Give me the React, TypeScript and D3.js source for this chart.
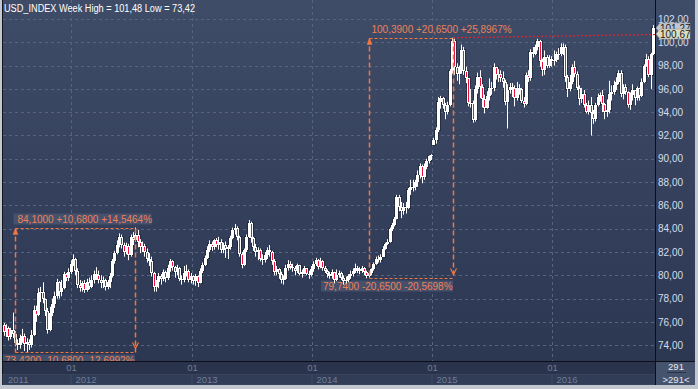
import React from "react";
import * as d3 from "d3";

const W = 698;
const H = 389;

const title = "USD_INDEX Week High = 101,48 Low = 73,42";
const startDate = new Date(2011, 5, 10);

const opens = [
  75.7,75.1,75.5,74.7,75.3,75.0,74.2,74.0,74.6,74.8,
  74.1,74.3,74.0,74.9,77.0,76.6,78.5,78.6,78.0,76.9,
  75.3,76.8,77.5,78.2,79.4,78.6,78.9,80.1,79.8,80.3,
  81.0,81.4,80.4,79.2,78.9,79.3,78.7,79.4,79.0,79.6,
  80.1,80.0,79.6,79.3,79.6,79.0,79.4,79.9,81.2,81.9,
  82.6,83.3,82.6,82.0,82.5,81.7,83.3,83.0,83.5,82.9,
  82.4,82.5,82.0,81.4,81.2,80.2,79.0,79.4,79.9,79.7,
  80.3,79.8,80.6,81.2,80.7,80.3,80.6,79.7,79.6,80.2,
  80.4,79.6,79.9,79.5,79.9,79.3,80.4,80.9,81.5,82.2,
  82.7,82.4,83.0,82.6,82.9,82.2,82.6,82.3,82.4,83.2,
  83.9,84.1,83.3,81.8,80.9,82.2,83.3,84.5,83.2,82.4,
  82.0,82.2,81.4,81.3,81.7,82.2,82.0,81.2,80.3,80.5,
  80.1,79.6,79.7,80.6,81.0,80.7,80.6,80.4,80.9,80.1,
  80.3,80.6,80.1,80.0,80.5,81.0,81.3,80.7,81.2,80.6,
  80.4,80.1,79.9,80.3,79.6,80.0,80.2,79.8,79.5,79.6,
  79.9,80.1,80.4,80.6,80.5,80.4,80.6,80.3,79.9,80.2,
  80.5,81.0,81.4,81.3,81.6,82.3,82.7,82.9,84.0,84.3,
  84.8,86.7,85.9,85.5,85.9,85.8,87.3,87.6,87.6,88.0,
  88.6,89.4,88.4,89.3,89.8,90.2,91.2,91.6,92.5,94.9,
  95.2,94.6,94.0,94.6,97.5,100.1,97.9,97.3,97.5,99.3,
  97.5,96.9,94.8,94.8,93.3,96.0,97.0,96.2,95.1,94.4,
  95.4,96.1,96.1,97.9,97.2,97.3,96.9,96.6,94.9,95.9,
  96.2,96.1,95.2,96.1,96.0,95.0,94.7,97.2,96.9,99.2,
  99.0,99.6,100.1,98.4,97.6,98.7,98.0,98.6,98.4,98.5,
  99.0,99.0,99.6,99.6,97.0,96.0,96.6,97.9,97.3,96.1,
  95.1,95.6,94.6,94.0,94.6,93.9,93.4,94.6,95.3,95.5,
  94.7,94.0,94.2,95.6,95.7,96.3,96.6,97.4,95.6,96.2,
  95.7,94.6,95.5,95.9,95.2,96.1,95.4,96.6,98.0,98.6,
  97.2,99.0,
];

const highs = [
  75.9,75.8,75.6,75.5,76.8,75.2,74.5,74.9,75.4,75.0,
  74.6,74.5,75.3,77.4,77.4,78.9,79.0,79.4,78.0,77.2,
  77.3,78.0,78.6,79.7,79.5,79.6,80.3,80.2,80.6,81.3,
  81.8,81.5,80.6,79.6,79.5,79.6,79.7,79.8,80.0,80.4,
  80.7,80.4,80.0,79.9,79.7,79.6,80.2,81.4,82.1,83.0,
  83.6,83.5,82.8,82.8,82.7,83.5,83.7,84.1,83.9,83.1,
  82.9,82.7,82.3,81.9,81.6,80.3,79.6,80.2,80.1,80.5,
  80.4,80.9,81.4,81.3,80.8,80.9,80.7,80.0,80.8,80.9,
  80.5,80.2,80.0,80.1,80.0,80.6,81.1,81.7,82.5,83.0,
  82.9,83.1,83.2,83.3,83.1,82.8,82.9,82.6,83.4,84.1,
  84.4,84.2,83.4,82.0,82.3,83.5,84.75,84.6,83.3,82.7,
  82.4,82.3,81.8,82.0,82.4,82.6,82.1,81.4,80.8,80.6,
  80.3,80.0,80.9,81.3,81.2,81.0,80.8,81.0,80.9,80.5,
  80.8,80.6,80.4,80.8,81.2,81.5,81.4,81.5,81.3,80.8,
  80.5,80.3,80.5,80.3,80.5,80.4,80.3,80.0,79.9,80.1,
  80.4,80.6,81.0,80.8,80.7,80.8,80.7,80.4,80.3,80.6,
  81.1,81.6,81.7,81.8,82.5,82.8,83.1,84.1,84.5,85.0,
  86.9,86.9,86.3,86.2,86.3,87.5,88.2,88.2,88.2,89.0,
  89.6,89.5,89.6,90.0,90.3,90.4,91.8,92.7,95.3,95.4,
  95.3,94.8,94.9,97.7,100.39,100.3,98.2,98.0,99.8,99.6,
  97.9,96.9,96.0,95.0,96.3,97.4,97.6,96.4,95.5,95.8,
  96.9,96.6,98.2,97.9,97.7,97.6,97.5,96.8,96.4,96.5,
  96.5,96.3,96.6,96.4,96.1,95.3,97.4,97.6,99.4,99.6,
  99.8,100.3,100.2,98.6,99.3,98.9,98.9,98.8,99.3,99.2,
  99.5,99.9,99.9,99.8,97.2,97.2,98.1,98.4,97.5,96.3,
  96.1,95.9,94.8,95.0,95.3,94.2,94.8,95.6,95.7,95.9,
  94.8,95.1,96.7,96.3,96.7,97.0,97.6,97.6,96.4,96.4,
  95.8,95.7,96.4,95.9,96.2,96.1,96.9,98.1,99.0,98.8,
  99.1,101.48,
];

const lows = [
  74.8,74.7,74.4,74.5,74.6,73.9,73.6,73.7,74.2,73.5,
  73.42,73.6,73.8,74.8,76.0,76.5,77.7,77.6,76.5,75.0,
  75.2,76.5,77.2,78.0,78.0,78.2,78.8,79.5,79.5,80.1,
  80.8,80.0,78.9,78.6,78.6,78.5,78.6,78.8,78.9,79.3,
  79.6,79.3,78.9,78.9,78.7,78.8,78.9,79.8,81.0,81.8,
  82.4,82.3,81.6,81.8,81.3,81.6,82.6,82.9,82.4,81.9,
  82.0,81.6,81.1,80.8,79.9,78.6,78.6,78.9,79.2,79.5,
  79.4,79.6,80.3,80.4,79.8,80.0,79.5,79.2,79.4,79.9,
  79.4,79.3,79.2,79.1,79.0,79.3,80.2,80.8,81.4,82.0,
  82.1,82.2,82.4,82.2,81.9,81.9,81.5,81.4,82.2,83.1,
  83.5,83.0,81.6,80.6,80.8,82.0,83.2,82.8,82.1,81.6,
  81.3,81.2,80.9,81.1,81.4,81.6,80.9,80.0,80.0,79.7,
  79.3,79.2,79.6,80.4,80.5,80.3,80.0,80.2,80.0,79.8,
  80.1,80.0,79.7,79.9,80.3,80.8,80.5,80.6,80.4,80.2,
  79.8,79.7,79.7,79.3,79.5,79.8,79.6,79.2,79.3,79.4,
  79.7,79.9,80.2,80.2,80.1,80.2,80.0,79.74,79.8,80.0,
  80.4,80.9,81.1,81.1,81.6,82.2,82.6,82.8,83.8,84.2,
  84.8,85.5,84.9,85.2,85.3,85.7,86.9,87.2,87.3,87.6,
  88.3,87.9,88.2,89.1,89.6,89.9,91.2,91.3,92.3,94.3,
  94.3,93.4,93.8,94.5,97.3,97.2,96.7,96.4,97.3,97.2,
  96.5,94.5,94.4,93.1,93.2,95.6,95.2,94.4,93.9,94.3,
  95.0,95.5,95.8,96.8,96.6,96.6,96.1,94.6,92.6,95.6,
  95.3,94.5,95.0,95.5,94.8,94.4,94.6,96.6,96.7,98.7,
  98.9,99.3,97.9,97.1,97.2,97.8,97.8,97.9,98.0,98.3,
  98.5,98.8,98.9,96.6,95.3,95.8,96.4,97.0,95.9,94.6,
  94.8,94.4,93.9,93.8,92.0,93.0,93.2,94.5,94.9,94.0,
  93.4,93.6,93.9,95.0,95.5,95.9,96.4,95.3,95.1,95.5,
  94.4,94.2,95.0,94.6,95.0,95.0,95.3,96.5,97.9,97.0,
  96.0,98.9,
];

const closes = [
  75.1,75.5,74.7,75.3,75.0,74.2,74.0,74.6,74.8,74.1,
  74.3,74.0,74.9,77.0,76.6,78.5,78.6,78.0,76.9,75.3,
  76.8,77.5,78.2,79.4,78.6,78.9,80.1,79.8,80.3,81.0,
  81.4,80.4,79.2,78.9,79.3,78.7,79.4,79.0,79.6,80.1,
  80.0,79.6,79.3,79.6,79.0,79.4,79.9,81.2,81.9,82.6,
  83.3,82.6,82.0,82.5,81.7,83.3,83.0,83.5,82.9,82.4,
  82.5,82.0,81.4,81.2,80.2,79.0,79.4,79.9,79.7,80.3,
  79.8,80.6,81.2,80.7,80.3,80.6,79.7,79.6,80.2,80.4,
  79.6,79.9,79.5,79.9,79.3,80.4,80.9,81.5,82.2,82.7,
  82.4,83.0,82.6,82.9,82.2,82.6,82.3,82.4,83.2,83.9,
  84.1,83.3,81.8,80.9,82.2,83.3,84.5,83.2,82.4,82.0,
  82.2,81.4,81.3,81.7,82.2,82.0,81.2,80.3,80.5,80.1,
  79.6,79.7,80.6,81.0,80.7,80.6,80.4,80.9,80.1,80.3,
  80.6,80.1,80.0,80.5,81.0,81.3,80.7,81.2,80.6,80.4,
  80.1,79.9,80.3,79.6,80.0,80.2,79.8,79.5,79.6,79.9,
  80.1,80.4,80.6,80.5,80.4,80.6,80.3,79.9,80.2,80.5,
  81.0,81.4,81.3,81.6,82.3,82.7,82.9,84.0,84.3,84.8,
  86.7,85.9,85.5,85.9,85.8,87.3,87.6,87.6,88.0,88.6,
  89.4,88.4,89.3,89.8,90.2,90.3,91.6,92.5,94.9,95.2,
  94.6,94.0,94.6,97.5,100.1,97.9,97.3,97.5,99.3,97.5,
  96.9,94.8,94.8,93.3,96.0,97.0,96.2,95.1,94.4,95.4,
  96.1,96.1,97.9,97.2,97.3,96.9,96.6,94.9,95.9,96.2,
  96.1,95.2,96.1,96.0,95.0,94.7,97.2,96.9,99.2,99.0,
  99.6,100.1,98.4,97.6,98.7,98.0,98.6,98.4,98.5,99.0,
  99.0,99.6,99.6,97.0,96.0,96.6,97.9,97.3,96.1,95.1,
  95.6,94.6,94.0,94.6,93.9,93.4,94.6,95.3,95.5,94.7,
  94.0,94.2,95.6,95.7,96.3,96.6,97.4,95.6,96.2,95.7,
  94.6,95.5,95.9,95.2,96.1,95.4,96.6,98.0,98.6,97.2,
  99.0,101.27,
];

const yTicks = [74, 76, 78, 80, 82, 84, 86, 88, 90, 92, 94, 96, 98, 100, 102];
const monthLabel = "01";

const annotations = [
  { from: 5, to: 57, low: 73.42, high: 84.1, topText: "84,1000 +10,6800 +14,5464%", bottomText: "73,4200 -10,6800 -12,6992%", bottomX: 5, topBox: true },
  { from: 158, to: 194.5, low: 79.74, high: 100.39, topText: "100,3900 +20,6500 +25,8967%", bottomText: "79,7400 -20,6500 -20,5698%", bottomX: 323, topBox: false },
];

const priceLine = { from: 194.5, start: 100.39, end: 100.67 };
const lastLabels = [
  { value: 101.27, text: "101,27", fill: "#c3c7cf" },
  { value: 100.67, text: "100,67", fill: "#dcdcc0" },
];
const barCountTop = "291";
const barCountBottom = ">291<";

const FONT = "'Liberation Sans', Arial, sans-serif";
const ORANGE = "#f2763f";
const ORANGE_TEXT = "#ee8158";

export default function App() {
  const plotL = 3;
  const plotR = 655;
  const plotB = 361;
  const n = closes.length;
  const x = d3.scaleLinear().domain([0, n - 1]).range([3.5, 653]);
  const y = d3.scaleLinear().domain([74, 102]).range([345.2, 19]);
  const step = x(1) - x(0);

  const dates = closes.map((_, i) => d3.timeWeek.offset(startDate, i));
  const yearStarts: { i: number; year: number }[] = [];
  dates.forEach((d, i) => {
    if (i > 0 && d.getFullYear() !== dates[i - 1].getFullYear()) yearStarts.push({ i, year: d.getFullYear() });
  });
  const bx = (i: number) => Math.round(x(i) - step * 0.6) + 0.5;
  const firstYear = dates[0].getFullYear();
  const yearCells = [{ x0: plotL, year: firstYear }, ...yearStarts.map((s) => ({ x0: bx(s.i), year: s.year }))];

  const fmt = (v: number) => v.toFixed(2).replace(".", ",");

  const candles = closes.map((c, i) => {
    const o = opens[i];
    const cx = Math.round(x(i));
    const top = Math.round(y(Math.max(o, c)));
    const bot = Math.max(Math.round(y(Math.min(o, c))), top + 1);
    return { i, cx, top, bot, yH: y(highs[i]), yL: y(lows[i]), down: c < o };
  });

  return (
    <svg width={W} height={H} style={{ position: "absolute", left: 0, top: 0 }} fontFamily={FONT}>
      <defs>
        <linearGradient id="bg" x1="0" y1="0" x2="0" y2="1">
          <stop offset="0" stopColor="#3f4c68" />
          <stop offset="1" stopColor="#2c3752" />
        </linearGradient>
        <clipPath id="plotClip">
          <rect x={plotL} y={0} width={plotR - plotL} height={plotB} />
        </clipPath>
      </defs>
      <rect x={0} y={0} width={W} height={H} fill="#c3c7cf" />
      <rect x={2} y={0} width={693} height={385} fill="#12161f" />
      <rect x={plotL} y={0} width={plotR - plotL} height={plotB} fill="url(#bg)" />
      <rect x={plotR + 1} y={0} width={695 - plotR - 1} height={plotB} fill="url(#bg)" />

      {/* grid */}
      <g clipPath="url(#plotClip)">
        {yTicks.map((t) => (
          <line key={t} x1={plotL} x2={plotR} y1={Math.round(y(t)) + 0.5} y2={Math.round(y(t)) + 0.5} stroke="#57647f" strokeDasharray="3,3" />
        ))}
        {yearStarts.map((s) => (
          <line key={s.i} x1={bx(s.i)} x2={bx(s.i)} y1={0} y2={plotB} stroke="#57647f" strokeDasharray="3,3" />
        ))}
      </g>

      {/* title */}
      <text x={4} y={12} fontSize={10} fill="#ffffff" textLength={191} lengthAdjust="spacingAndGlyphs">{title}</text>

      {/* annotation texts */}
      <g clipPath="url(#plotClip)">
        {annotations.map((a, k) => {
          const x0 = Math.round(x(a.from)) + 0.5;
          const yT = Math.round(y(a.high)) + 0.5;
          const yB = Math.round(y(a.low)) + 0.5;
          return (
            <g key={k}>
              {a.topBox && <rect x={x0 - 2} y={yT - 15} width={138} height={11} fill="#4a5672" opacity={0.8} />}
              <rect x={a.bottomX - 2} y={yB + 2} width={132} height={11} fill="#4a5672" opacity={0.8} />
              <text x={x0 + 2} y={yT - 6} fontSize={10} fill={ORANGE_TEXT}>{a.topText}</text>
              <text x={a.bottomX} y={yB + 11} fontSize={10} fill={ORANGE_TEXT}>{a.bottomText}</text>
            </g>
          );
        })}
      </g>

      {/* candles */}
      <g clipPath="url(#plotClip)">
        {candles.map((k) => (
          <rect key={"b" + k.i} x={k.cx - 2} y={k.top - 1} width={5} height={k.bot - k.top + 2} fill="#161b27" opacity={0.55} />
        ))}
        {candles.map((k) => (
          <g key={k.i}>
            <line x1={k.cx + 0.5} x2={k.cx + 0.5} y1={k.yH} y2={k.yL} stroke="#ffffff" strokeWidth={1} />
            <rect x={k.cx - 1} y={k.top} width={3} height={k.bot - k.top} fill="#ffffff" />
            {k.down && k.bot - k.top > 2 && <rect x={k.cx} y={k.top + 1} width={1} height={k.bot - k.top - 2} fill="#e8123c" />}
          </g>
        ))}
      </g>

      {/* annotation lines */}
      <g clipPath="url(#plotClip)" fill="none" stroke={ORANGE}>
        {annotations.map((a, k) => {
          const x0 = Math.round(x(a.from)) + 0.5;
          const x1 = Math.round(x(a.to)) + 0.5;
          const yT = Math.round(y(a.high)) + 0.5;
          const yB = Math.round(y(a.low)) + 0.5;
          return (
            <g key={k}>
              <line x1={x0} x2={x1} y1={yT} y2={yT} strokeDasharray="3,2" strokeWidth={1} />
              <line x1={x0} x2={x1} y1={yB} y2={yB} strokeDasharray="3,2" strokeWidth={1} />
              <line x1={x0} x2={x0} y1={yT} y2={yB} strokeDasharray="5,3" strokeWidth={1.5} />
              <line x1={x1} x2={x1} y1={yT} y2={yB} strokeDasharray="5,3" strokeWidth={1.5} />
              <polygon points={`${x0 - 2.5},${yT + 6} ${x0},${yT} ${x0 + 2.5},${yT + 6}`} fill={ORANGE} strokeWidth={0.5} />
              <polyline points={`${x1 - 3},${yB - 10} ${x1},${yB - 4} ${x1 + 3},${yB - 10}`} strokeWidth={1.2} />
            </g>
          );
        })}
        <line x1={x(priceLine.from)} x2={plotR} y1={y(priceLine.start)} y2={y(priceLine.end)} stroke="#e3232f" strokeDasharray="2,2" strokeWidth={1.2} />
      </g>

      {/* frame lines */}
      <rect x={plotR} y={0} width={1} height={385} fill="#0c0f15" />
      <rect x={2} y={plotB} width={693} height={1} fill="#0c0f15" />

      {/* right axis */}
      {yTicks.map((t) => (
        <text key={t} x={658} y={y(t)} dy="0.36em" fontSize={10} fill="#d4deee">{fmt(t)}</text>
      ))}
      {lastLabels.map((l) => {
        const cy = Math.round(y(l.value));
        return (
          <g key={l.text}>
            <polygon points={`${plotR + 1},${cy} ${plotR + 5},${cy - 5} 690,${cy - 5} 690,${cy + 5} ${plotR + 5},${cy + 5}`} fill={l.fill} stroke="#8a8e96" strokeWidth={0.5} />
            <text x={660} y={cy} dy="0.36em" fontSize={10} fill="#1a1a1a">{l.text}</text>
          </g>
        );
      })}

      {/* bottom axis */}
      <rect x={3} y={plotB + 1} width={plotR - 3} height={23} fill="#29334b" />
      {yearCells.map((c, k) => {
        const next = k + 1 < yearCells.length ? yearCells[k + 1].x0 : plotR;
        return (
          <g key={c.year}>
            <rect x={c.x0} y={374.5} width={next - c.x0 - 1} height={10} fill="#313c56" stroke="#38445e" strokeWidth={1} />
            <text x={c.x0 + (k === 0 ? 5 : 4)} y={380} dy="0.36em" fontSize={9.5} fill="#6f7d98">{c.year}</text>
          </g>
        );
      })}
      {yearStarts.map((s) => (
        <text key={s.i} x={bx(s.i)} y={368} dy="0.36em" fontSize={9.5} fill="#6f7d98" textAnchor="middle">{monthLabel}</text>
      ))}
      <rect x={plotR + 1} y={plotB + 1} width={695 - plotR - 1} height={23} fill="#46536d" />
      <text x={676} y={367} dy="0.36em" fontSize={9.5} fill="#e4eaf2" textAnchor="middle">{barCountTop}</text>
      <line x1={667} x2={686} y1={372.5} y2={372.5} stroke="#2a3246" />
      <text x={676} y={380} dy="0.36em" fontSize={9.5} fill="#e4eaf2" textAnchor="middle">{barCountBottom}</text>
    </svg>
  );
}
